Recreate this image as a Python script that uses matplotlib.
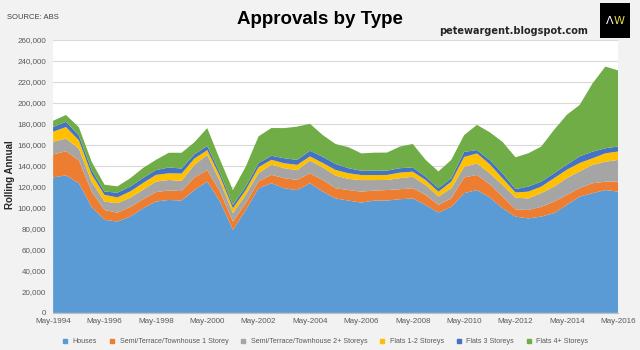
import numpy as np
import matplotlib
matplotlib.use("Agg")
import matplotlib.pyplot as plt
from matplotlib.lines import Line2D
from matplotlib.patches import Rectangle

# semi-annual readings, May-1994 .. May-2016 (thousands of dwellings, rolling annual)
months = np.arange(0, 265, 6)
houses = [129, 131, 123.5, 101, 88.6, 87, 91.7, 99.7, 106, 107.6, 107, 117, 125, 106, 79,
          98, 118.7, 123.5, 118.7, 117, 123.5, 115.5, 109, 107, 105, 107, 107, 108.3, 109,
          102.8, 95.5, 101, 114, 117, 110, 99.7, 91.7, 90, 91.7, 95, 102.8, 110.8, 114, 117, 115.5]
semi_1 = [22, 23, 22, 14.5, 9.4, 8.5, 9, 8.5, 9, 9, 9, 12, 11, 9.5, 8,
          6.5, 6.5, 8, 9.6, 9.6, 9.5, 11, 9.7, 10, 10.5, 9.5, 10, 9.5, 9.7,
          9.6, 7.3, 8, 15, 14.4, 12.5, 11, 7, 8, 9.3, 11, 9.6, 8, 9.5, 8, 9.5]
semi_2 = [12, 12, 11, 9.5, 8, 9, 9, 9, 10, 10, 9.7, 12, 14.5, 9.5, 8,
          8, 8, 9.6, 9.5, 9.4, 12, 12, 12, 10.6, 11, 10, 9.6, 10.5, 11,
          9.5, 8, 9.7, 10, 11, 10.5, 11, 11, 11, 13, 14.3, 16, 16, 17.5, 19, 20.7]
flats_12 = [9.6, 11, 8, 7, 6.4, 5.5, 6, 6.5, 6.4, 6.4, 7, 6, 4.5, 4.8, 4.7,
            4.6, 5.7, 4.7, 4.7, 5, 4, 4.3, 5.4, 5.4, 4.8, 4.8, 4.8, 5.3, 4.8,
            4.7, 4.7, 6.3, 9.5, 9.5, 8.5, 6.4, 5, 6.5, 6.3, 8, 8, 8, 6.3, 8, 8]
flats_3 = [4.4, 5, 4.5, 4, 3.2, 4.5, 4.5, 4.8, 4.6, 5.5, 4.8, 4.1, 4, 3.2, 3.1,
           3.3, 3.8, 3.8, 4.8, 4.7, 5.5, 5.8, 5.7, 4.8, 4.1, 4.1, 4.1, 4.2, 4.1,
           3.2, 3.2, 3.3, 4.8, 3.2, 4, 4.7, 3.2, 4.8, 4.7, 4.7, 4.8, 6.3, 6.3, 4.8, 4.8]
flats_4 = [6, 6.5, 8, 8, 6.5, 6, 8, 9.5, 9.7, 14, 15, 11.4, 17, 12.7, 14.2,
           19, 25.5, 26.5, 28.7, 31.7, 25.6, 20.7, 19, 20, 16.5, 17.2, 17.2, 20.6, 22.3,
           16, 16, 17.4, 16, 24, 26.5, 30, 30.3, 31.7, 33.4, 41.3, 47.5, 49, 65, 77.8, 72.4]

labels = ["Houses", "Semi/Terrace/Townhouse 1 Storey", "Semi/Terrace/Townhouse 2+ Storeys",
          "Flats 1-2 Storeys", "Flats 3 Storeys", "Flats 4+ Storeys"]
colors = ["#5b9bd5", "#ed7d31", "#a5a5a5", "#ffc000", "#4472c4", "#70ad47"]
tick_labels = ["May-%d" % y for y in range(1994, 2017, 2)]

plt.rcParams["font.family"] = ["Liberation Sans", "DejaVu Sans"]

fig = plt.figure(figsize=(6.4, 3.5), dpi=100, facecolor="#f2f2f2")
ax = fig.add_axes([0.083, 0.106, 0.883, 0.78])
ax.set_facecolor("white")

series = [np.array(s) * 1000 for s in (houses, semi_1, semi_2, flats_12, flats_3, flats_4)]
ax.stackplot(months, *series, colors=colors, linewidth=0)

ax.set_xlim(0, 264)
ax.set_ylim(0, 260000)
ax.set_yticks(np.arange(0, 260001, 20000))
ax.yaxis.set_major_formatter(matplotlib.ticker.FuncFormatter(lambda v, p: "{:,.0f}".format(v)))
ax.set_xticks(np.arange(0, 265, 24))
ax.set_xticklabels(tick_labels)
ax.tick_params(axis="both", length=0, labelsize=5.8, colors="#595959")
ax.tick_params(axis="x", pad=4)
ax.tick_params(axis="y", pad=5)
ax.grid(axis="y", color="#d9d9d9", linewidth=0.8)
ax.set_axisbelow(True)
for s in ["top", "right", "left"]:
    ax.spines[s].set_visible(False)
ax.spines["bottom"].set_color("#bfbfbf")

fig.text(0.016, 0.5, "Rolling Annual", rotation=90, ha="center", va="center",
         fontsize=7, fontweight="bold", color="#262626")
fig.text(0.5, 0.945, "Approvals by Type", ha="center", va="center", fontsize=13.5,
         fontweight="bold", color="black")
fig.text(0.011, 0.95, "SOURCE: ABS", ha="left", va="center", fontsize=5.5, color="#404040")
fig.text(0.918, 0.912, "petewargent.blogspot.com", ha="right", va="center", fontsize=7,
         fontweight="bold", color="#262626", family=["DejaVu Sans"])

# AW logo box
fig.patches.append(Rectangle((0.938, 0.892), 0.046, 0.1, transform=fig.transFigure,
                             facecolor="black", edgecolor="none"))
fig.text(0.952, 0.94, "Λ", ha="center", va="center", fontsize=8, color="white",
         family=["DejaVu Sans"])
fig.text(0.968, 0.94, "W", ha="center", va="center", fontsize=8, color="#e5d84a",
         family=["DejaVu Sans"])

handles = [Line2D([], [], marker="s", linestyle="none", markersize=3.5, color=c) for c in colors]
fig.legend(handles, labels, loc="lower center", bbox_to_anchor=(0.505, -0.005), ncol=6,
           frameon=False, fontsize=5.1, handletextpad=0.05, columnspacing=1.1,
           labelcolor="#595959")

fig.savefig("out.png", dpi=100, facecolor=fig.get_facecolor())
